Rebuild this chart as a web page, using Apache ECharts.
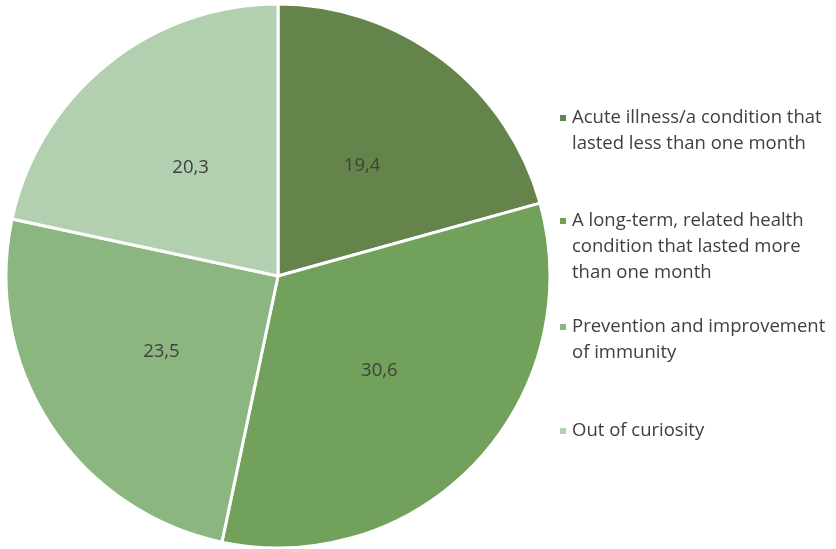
<!DOCTYPE html>
<html><head><meta charset="utf-8">
<script src="https://cdn.jsdelivr.net/npm/echarts@6/dist/echarts.min.js"></script>
<style>html,body{margin:0;padding:0;background:#fff}#c{width:836px;height:549px}</style>
</head><body><div id="c"></div>
<script>
const categories = [
  "Acute illness/a condition that\nlasted less than one month",
  "A long-term, related health\ncondition that lasted more\nthan one month",
  "Prevention and improvement\nof immunity",
  "Out of curiosity"
];
const values = [19.4, 30.6, 23.5, 20.3];
const colors = ["#65844c", "#71a15a", "#8bb680", "#b2cfb0"];
const legendMarkerY = [118, 221, 327, 431];

const LH = 26, SQ = 8;
const chart = echarts.init(document.getElementById('c'), null, {renderer:'canvas'});
const font = '"Open Sans", sans-serif';
chart.setOption({
  animation: false,
  color: colors,
  legend: categories.map((name, i) => {
    const n = name.split('\n').length;
    const ih = SQ + (n - 1) * LH;
    return {
      data: [name],
      left: 558,
      top: legendMarkerY[i] - LH / 2,
      padding: 0,
      orient: 'vertical',
      icon: 'path://M0,0h' + SQ + 'v' + SQ + 'h-' + SQ + 'zM0,' + ih,
      itemWidth: SQ,
      itemHeight: ih,
      selectedMode: false,
      textStyle: {fontFamily: font, fontSize: 18.5, color: '#404040', lineHeight: LH}
    };
  }),
  series: [{
    type: 'pie',
    center: [278, 276],
    radius: [0, 272],
    startAngle: 90,
    clockwise: true,
    avoidLabelOverlap: false,
    itemStyle: {borderColor: '#fff', borderWidth: 3},
    label: {
      show: true,
      position: 'inside',
      formatter: p => String(p.value).replace('.', ','),
      fontFamily: font,
      fontSize: 18.5,
      color: '#404040'
    },
    labelLine: {show: false},
    emphasis: {disabled: true},
    data: categories.map((n, i) => ({name: n, value: values[i]}))
  }]
});
</script></body></html>
